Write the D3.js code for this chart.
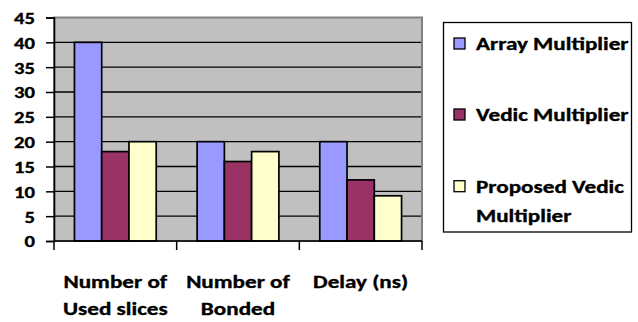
<!DOCTYPE html>
<html>
<head>
<meta charset="utf-8">
<script src="https://cdn.jsdelivr.net/npm/d3@7"></script>
<style>
  html, body { margin: 0; padding: 0; background: #fff; }
  svg { display: block; }
  text { font-family: Carlito, Calibri, Lato, sans-serif; font-weight: bold; fill: #000;
         stroke: #000; stroke-width: 0.35px; }
</style>
</head>
<body>
<svg id="chart" width="638" height="322"></svg>
<script>
// Resource / timing comparison of three multiplier designs
const categories = [["Number of", "Used slices"], ["Number of", "Bonded"], ["Delay (ns)"]];
const seriesNames = ["Array Multiplier", "Vedic Multiplier", ["Proposed Vedic", "Multiplier"]];
const arrayValues = [40, 20, 20];
const vedicValues = [18, 16, 12.3];
const proposedValues = [20, 18, 9.1];
const yTicks = [0, 5, 10, 15, 20, 25, 30, 35, 40, 45];
const colors = ["#9999FF", "#993366", "#FFFFCC"];

const allSeries = [arrayValues, vedicValues, proposedValues];
const svg = d3.select("#chart");

const plot = { left: 54, right: 422, top: 17.5, bottom: 241 };
const WIDEN = 1.25; // labels are set in a wide bold face

const x = d3.scaleBand()
  .domain(d3.range(categories.length))
  .range([plot.left, plot.right])
  .paddingInner(0).paddingOuter(0);

const xInner = d3.scaleBand()
  .domain(d3.range(allSeries.length))
  .range([0, x.bandwidth()])
  .paddingInner(0).paddingOuter(0.75);

const y = d3.scaleLinear().domain([0, 45]).range([plot.bottom, plot.top]);

// widen a text horizontally around its anchor
function widen(sel) {
  sel.each(function () {
    const len = this.getComputedTextLength();
    d3.select(this).attr("textLength", len * WIDEN).attr("lengthAdjust", "spacingAndGlyphs");
  });
}

// plot background with grey frame
svg.append("rect")
  .attr("x", plot.left).attr("y", plot.top)
  .attr("width", plot.right - plot.left).attr("height", plot.bottom - plot.top)
  .attr("fill", "#C0C0C0")
  .attr("stroke", "#808080").attr("stroke-width", 2);

// horizontal gridlines
svg.append("g").selectAll("line")
  .data(yTicks.filter(t => t > 0 && t < 45))
  .join("line")
  .attr("x1", plot.left).attr("x2", plot.right - 1)
  .attr("y1", d => y(d)).attr("y2", d => y(d))
  .attr("stroke", "#000").attr("stroke-width", 1.4);

// bars
const groups = svg.append("g").selectAll("g")
  .data(allSeries)
  .join("g")
  .attr("fill", (d, i) => colors[i]);

groups.each(function (vals, si) {
  d3.select(this).selectAll("rect")
    .data(vals)
    .join("rect")
    .attr("x", (v, ci) => x(ci) + xInner(si))
    .attr("y", v => y(v))
    .attr("width", xInner.bandwidth())
    .attr("height", v => y(0) - y(v))
    .attr("stroke", "#000")
    .attr("stroke-width", 1.7);
});

// y axis
const yAxis = d3.axisLeft(y).tickValues(yTicks).tickSize(8).tickPadding(11);
const gy = svg.append("g").attr("transform", `translate(${plot.left},0)`).call(yAxis);
gy.select(".domain").attr("stroke", "#000").attr("stroke-width", 1.6);
gy.selectAll(".tick line").attr("stroke", "#000").attr("stroke-width", 1.5);
gy.selectAll(".tick text").attr("font-size", 16.5).attr("dy", "0.36em")
  .style("font-family", "Carlito, Calibri, Lato, sans-serif").style("font-weight", "bold")
  .call(widen);

// x axis with ticks between categories
const gx = svg.append("g").attr("transform", `translate(0,${plot.bottom})`);
gx.append("line")
  .attr("x1", plot.left).attr("x2", plot.right)
  .attr("stroke", "#000").attr("stroke-width", 1.6);
gx.selectAll(".cat-tick")
  .data(d3.range(categories.length + 1))
  .join("line")
  .attr("class", "cat-tick")
  .attr("x1", i => plot.left + i * x.step()).attr("x2", i => plot.left + i * x.step())
  .attr("y1", 0).attr("y2", 9)
  .attr("stroke", "#000").attr("stroke-width", 1.5);

// category labels, one text per line so each can be widened on its own
const catG = svg.append("g");
categories.forEach((lines, i) => {
  lines.forEach((ln, k) => {
    catG.append("text")
      .attr("x", x(i) + x.bandwidth() / 2)
      .attr("y", 288 + k * 27)
      .attr("text-anchor", "middle")
      .attr("font-size", 18.5)
      .text(ln)
      .call(widen);
  });
});

// legend
const legend = svg.append("g");
legend.append("rect")
  .attr("x", 443.5).attr("y", 22.5).attr("width", 188).attr("height", 209.5)
  .attr("fill", "#fff").attr("stroke", "#000").attr("stroke-width", 1.3);

const legendRows = [50, 121, 192.7];
seriesNames.forEach((name, i) => {
  const base = legendRows[i];
  legend.append("rect")
    .attr("x", 454).attr("y", base - 12)
    .attr("width", 11).attr("height", 11)
    .attr("fill", colors[i]).attr("stroke", "#000").attr("stroke-width", 1.3);
  const lines = Array.isArray(name) ? name : [name];
  lines.forEach((ln, k) => {
    legend.append("text")
      .attr("x", 476).attr("y", base + k * 29)
      .attr("font-size", 18.5)
      .text(ln)
      .call(widen);
  });
});
</script>
</body>
</html>
